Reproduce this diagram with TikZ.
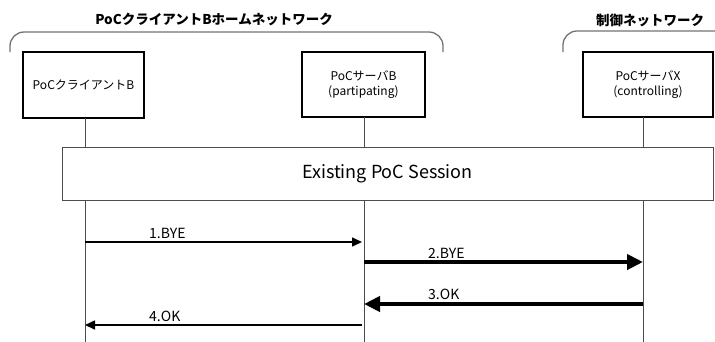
\documentclass[tikz,border=0pt]{standalone}
\usepackage{fontspec}
\setmainfont{Noto Sans CJK JP}
\usetikzlibrary{arrows.meta}

\tikzset{
  entity/.style={draw=black, line width=2pt, fill=white, align=center,
    font=\fontsize{12}{15}\selectfont, inner sep=0pt},
  lifeline/.style={draw=black!70, line width=0.8pt},
  bracket/.style={draw=black!55, line width=1.3pt, rounded corners=14pt},
  grouptitle/.style={font=\bfseries\fontsize{13.5}{16}\selectfont, inner sep=0pt},
  session/.style={draw=black!70, line width=0.8pt, fill=white,
    font=\fontsize{18}{21}\selectfont},
  thinmsg/.style={line width=1.6pt, -{Triangle[length=10pt,width=9pt]}},
  thickmsg/.style={line width=4pt, -{Triangle[length=16pt,width=15pt]}},
  msglabel/.style={font=\fontsize{14}{16}\selectfont, inner sep=0pt, anchor=west}
}

\begin{document}
\begin{tikzpicture}[x=1pt,y=-1pt]
\useasboundingbox (0,0) rectangle (715,341);

% network groupings
\draw[bracket] (10,52) -- (10,32) -- (443,32) -- (443,52);
\node[grouptitle] (t1) at (214,20) {PoCクライアントBホームネットワーク};
\draw[bracket] (563,52) -- (563,31) -- (730,31);
\node[grouptitle] (t2) at (650,20) {制御ネットワーク};

% participants
\node[entity, minimum width=121pt, minimum height=66pt] (cb) at (83.5,85) {PoCクライアントB};
\node[entity, minimum width=123pt, minimum height=65pt] (sb) at (363.5,84.5) {PoCサーバB\\(partipating)};
\node[entity, minimum width=130pt, minimum height=65pt] (sx) at (648,84.5) {PoCサーバX\\(controlling)};

% lifeline anchors
\coordinate (cbtop) at (85,118);
\coordinate (sbtop) at (364,117);
\coordinate (sxtop) at (643,117);
\coordinate (cbend) at (85,345);
\coordinate (sbend) at (364,345);
\coordinate (sxend) at (643,345);

% existing session
\node[session, minimum width=651pt, minimum height=53pt] (sess) at (387.5,173.5) {Existing PoC Session};

\draw[lifeline] (cbtop) -- (cbtop |- sess.north);
\draw[lifeline] (sbtop) -- (sbtop |- sess.north);
\draw[lifeline] (sxtop) -- (sxtop |- sess.north);
\draw[lifeline] (cbend |- sess.south) -- (cbend);
\draw[lifeline] (sbend |- sess.south) -- (sbend);
\draw[lifeline] (sxend |- sess.south) -- (sxend);

% messages
\coordinate (m1a) at (85,242);  \coordinate (m1b) at (362,242);
\coordinate (m2a) at (364,262); \coordinate (m2b) at (643,262);
\coordinate (m3a) at (643,304); \coordinate (m3b) at (364,304);
\coordinate (m4a) at (362,325); \coordinate (m4b) at (85,325);

\draw[thinmsg] (m1a) -- (m1b);
\draw[thickmsg] (m2a) -- (m2b);
\draw[thickmsg] (m3a) -- (m3b);
\draw[thinmsg] (m4a) -- (m4b);

\node[msglabel] (l1) at (149,233) {1.BYE};
\node[msglabel] (l2) at (428,253) {2.BYE};
\node[msglabel] (l3) at (428,294) {3.OK};
\node[msglabel] (l4) at (149,316) {4.OK};
\end{tikzpicture}
\end{document}
